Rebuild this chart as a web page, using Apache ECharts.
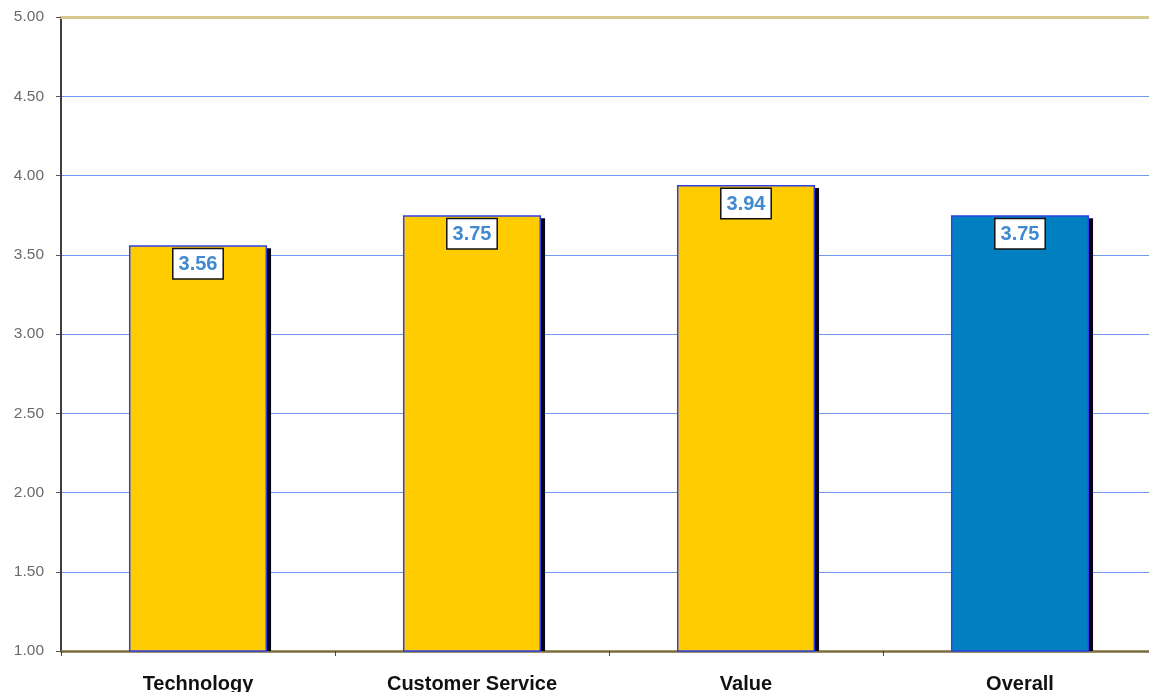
<!DOCTYPE html>
<html>
<head>
<meta charset="utf-8">
<script src="https://cdn.jsdelivr.net/npm/echarts@6/dist/echarts.min.js"></script>
<style>
  html, body { margin: 0; padding: 0; background: #fff; }
  #score-chart { width: 1149px; height: 692px; }
</style>
</head>
<body>
<div id="score-chart"></div>
<script>
const categories = ['Technology', 'Customer Service', 'Value', 'Overall']
const scores = [3.56, 3.75, 3.94, 3.75]
const barColors = ['#ffcc00', '#ffcc00', '#ffcc00', '#0080c0']

const BAR_RATIO = 0.504
const font = 'Liberation Sans, Arial, sans-serif'

const myChart = echarts.init(document.getElementById('score-chart'))
const option = {
  animation: false,
  grid: { left: 61, width: 1096, top: 17, bottom: 41, outerBoundsMode: 'none' },
  xAxis: [
    {
      type: 'category',
      data: categories,
      axisLine: { lineStyle: { color: '#7d6d3e', width: 2.5 } },
      axisTick: { show: true, length: 5, lineStyle: { color: '#444' } },
      axisLabel: {
        color: '#111',
        fontWeight: 'bold',
        fontSize: 20,
        fontFamily: font,
        margin: 23
      }
    },
    {
      // khaki line across the top of the plot
      type: 'category',
      position: 'top',
      data: categories,
      axisLine: { lineStyle: { color: '#d6c98e', width: 3 } },
      axisTick: { show: false },
      axisLabel: { show: false }
    }
  ],
  yAxis: {
    type: 'value',
    min: 1,
    max: 5,
    interval: 0.5,
    axisLine: { show: true, lineStyle: { color: '#000', width: 1.5 } },
    axisTick: { show: true, length: 5, lineStyle: { color: '#555' } },
    axisLabel: {
      color: '#6a6a6a',
      fontSize: 15.5,
      fontFamily: font,
      margin: 17,
      formatter: function(v) { return v.toFixed(2) }
    },
    splitLine: { lineStyle: { color: '#7398f2', width: 1.2 } }
  },
  series: [
    {
      // dark drop shadow behind each bar
      type: 'custom',
      z: 1,
      clip: true,
      data: scores.map(function(v, i) { return [i, v] }),
      renderItem: function(params, api) {
        const top = api.coord([api.value(0), api.value(1)])
        const base = api.coord([api.value(0), 1])
        const w = api.size([1, 0])[0] * BAR_RATIO
        return {
          type: 'rect',
          shape: { x: top[0] - w / 2 + 4, y: top[1] + 3, width: w, height: base[1] - top[1] },
          style: { fill: '#05051a' }
        }
      }
    },
    {
      type: 'bar',
      z: 2,
      barWidth: (BAR_RATIO * 100) + '%',
      data: scores.map(function(v, i) {
        return {
          value: v,
          itemStyle: { color: barColors[i], borderColor: '#3040e8', borderWidth: 1.5 }
        }
      }),
      label: {
        show: true,
        position: 'insideTop',
        distance: 4,
        formatter: function(p) { return p.value.toFixed(2) },
        color: '#4189d0',
        fontWeight: 'bold',
        fontSize: 20,
        fontFamily: font,
        backgroundColor: '#fff',
        borderColor: '#111',
        borderWidth: 1.5,
        padding: [5, 5, 4, 5]
      }
    }
  ]
}

myChart.setOption(option)
window.addEventListener('resize', function() {
  myChart.resize()
})
</script>
</body>
</html>
